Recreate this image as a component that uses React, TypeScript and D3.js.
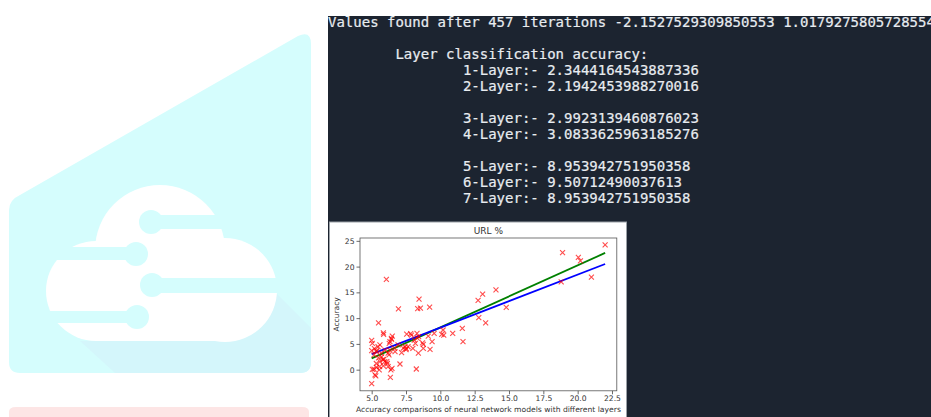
import * as d3 from "d3";
import React, { useEffect, useRef } from "react";

// terminal output shown above the chart
const terminalLines: string[] = [
  "Values found after 457 iterations -2.1527529309850553 1.0179275805728554",
  "",
  "        Layer classification accuracy:",
  "                1-Layer:-  2.3444164543887336",
  "                2-Layer:-  2.1942453988270016",
  "",
  "                3-Layer:-  2.9923139460876023",
  "                4-Layer:-  3.0833625963185276",
  "",
  "                5-Layer:-  8.953942751950358",
  "                6-Layer:-  9.50712490037613",
  "                7-Layer:-  8.953942751950358",
];

const chartTitle = "URL %";
const xLabel = "Accuracy comparisons of neural network models with different layers";
const yLabel = "Accuracy";

const xTicks = [5, 7.5, 10, 12.5, 15, 17.5, 20, 22.5];
const yTicks = [0, 5, 10, 15, 20, 25];

// scatter points
const pointsX = [
  22.0, 18.9, 20.05, 20.2, 18.8, 21.0, 14.05, 13.08, 12.75, 14.8, 12.8, 13.3,
  11.6, 11.65, 10.9, 10.2, 10.1, 10.25, 6.07, 8.45, 6.95, 8.35, 8.55, 9.22,
  5.5, 5.85, 5.87, 9.55, 9.12, 9.4, 8.76, 9.25, 8.76, 8.4, 8.3, 8.32, 8.1,
  7.84, 7.55, 7.9, 8.42, 8.18, 8.0, 7.65, 7.52, 7.43, 7.3, 7.5, 7.18, 6.7,
  6.92, 6.67, 6.5, 6.45, 6.33, 6.28, 6.43, 6.33, 6.26, 6.2, 5.97, 5.0, 5.05,
  5.6, 5.46, 5.36, 5.0, 5.2, 5.34, 5.17, 5.7, 5.73, 5.5, 5.83, 5.85, 5.6,
  6.1, 5.95, 6.14, 5.34, 5.36, 5.55, 5.85, 6.2, 6.4, 5.17, 5.05, 5.58, 6.48,
  5.24, 5.3, 5.0, 6.36, 7.06, 8.25, 8.7,
];
const pointsY = [
  24.2, 22.7, 21.8, 21.1, 17.05, 17.95, 15.5, 14.67, 13.45, 12.1, 10.1, 9.1,
  8.0, 5.43, 7.05, 7.7, 6.85, 6.7, 17.5, 13.7, 11.8, 11.85, 11.95, 12.15,
  9.1, 7.15, 6.85, 7.05, 6.5, 5.43, 4.15, 3.95, 4.9, 3.2, 7.05, 6.1, 5.75,
  7.0, 6.9, 6.7, 6.4, 5.1, 4.13, 4.45, 4.1, 4.45, 4.2, 3.9, 3.3, 3.5,
  4.8, 4.13, 6.5, 5.9, 5.43, 5.1, 6.07, 3.8, 2.85, 3.2, 3.8, 5.7, 5.1,
  4.8, 4.45, 3.7, 3.7, 4.1, 3.5, 2.85, 3.2, 2.5, 2.3, 2.0, 1.9, 1.55,
  1.55, 1.55, 1.2, 1.2, 0.46, -0.06, 0.72, 0.58, -0.06, 0.08, 0.06, 0.58, 0.26,
  -1.03, -1.2, -2.7, -1.48, 1.1, 0.13, 5.2,
];

// fitted lines (start / end)
const fitX = [5.0, 22.0];
const greenFitY = [2.2, 22.65];
const blueFitY = [3.0, 20.5];

const App = () => {
  const ref = useRef<SVGSVGElement>(null);

  useEffect(() => {
    const svg = d3.select(ref.current);
    svg.selectAll("*").remove();

    // ---- logo on the left ----
    const logo = svg.append("g");
    logo
      .append("path")
      .attr(
        "d",
        "M9,210 Q9,200 20,195 L298,36 Q311,30 311,44 L311,362 Q311,373 300,373 L20,373 Q9,373 9,362 Z"
      )
      .attr("fill", "#d5fdfd");
    logo
      .append("path")
      .attr("d", "M80,341 L230,341 L276,293 L311,328 L311,362 Q311,373 300,373 L115,373 Z")
      .attr("fill", "#d4f6fb");
    const cloud = logo.append("g").attr("fill", "#ffffff");
    cloud.append("circle").attr("cx", 160).attr("cy", 250).attr("r", 65);
    cloud.append("circle").attr("cx", 96).attr("cy", 291).attr("r", 50);
    cloud.append("circle").attr("cx", 225).attr("cy", 290).attr("r", 52);
    cloud.append("rect").attr("x", 96).attr("y", 250).attr("width", 130).attr("height", 91);
    const circuit = logo.append("g").attr("fill", "#d5fdfd");
    [
      [152, 232, 215, 14, 151, 222],
      [36, 135, 247, 13, 136, 254],
      [152, 290, 278, 15, 152, 285],
      [40, 135, 311, 12, 137, 317],
    ].forEach(([x0, x1, y, h, cx, cy]) => {
      circuit.append("rect").attr("x", x0).attr("y", y).attr("width", x1 - x0).attr("height", h);
      circuit.append("circle").attr("cx", cx).attr("cy", cy).attr("r", 12);
    });
    logo
      .append("path")
      .attr("d", "M9,417 L9,412 Q9,407 16,407 L302,407 Q309,407 309,412 L309,417 Z")
      .attr("fill", "#fde5e5");

    // ---- terminal ----
    svg
      .append("rect")
      .attr("x", 328)
      .attr("y", 16)
      .attr("width", 603)
      .attr("height", 401)
      .attr("fill", "#1c2430");

    const charW = 8.43;
    const lineH = 16.05;
    svg
      .append("g")
      .attr("font-family", "DejaVu Sans Mono, monospace")
      .attr("font-size", 14)
      .attr("fill", "#e8ecf0")
      .attr("stroke", "#e8ecf0")
      .attr("stroke-width", 0.2)
      .selectAll("text")
      .data(terminalLines)
      .join("text")
      .attr("x", (d) => 328 + (d.length - d.trimStart().length) * charW)
      .attr("y", (_, i) => 26.5 + i * lineH)
      .text((d) => d.trim());

    svg.append("rect").attr("x", 328).attr("y", 0).attr("width", 603).attr("height", 16).attr("fill", "#ffffff");

    // ---- chart panel ----
    svg
      .append("rect")
      .attr("x", 329.5)
      .attr("y", 222)
      .attr("width", 297)
      .attr("height", 196)
      .attr("fill", "#ffffff")
      .attr("stroke", "#9aa0a6")
      .attr("stroke-width", 1);

    const x = d3.scaleLinear().domain([4.15, 22.85]).range([360, 616.8]);
    const y = d3.scaleLinear().domain([-4.1, 25.55]).range([390.8, 238]);

    const xAxis = svg
      .append("g")
      .attr("transform", `translate(0, ${y.range()[0]})`)
      .call(
        d3
          .axisBottom(x)
          .tickValues(xTicks)
          .tickFormat(d3.format(".1f"))
          .tickSize(3.5)
          .tickPadding(1.5)
      );
    const yAxis = svg
      .append("g")
      .attr("transform", `translate(${x.range()[0]}, 0)`)
      .call(d3.axisLeft(y).tickValues(yTicks).tickFormat(d3.format("d")).tickSize(3.5).tickPadding(2));

    [xAxis, yAxis].forEach((a) => {
      a.select(".domain").remove();
      a.selectAll(".tick line").attr("stroke", "#444").attr("stroke-width", 0.8);
      a.selectAll(".tick text")
        .attr("fill", "#333")
        .attr("font-family", "DejaVu Sans, sans-serif")
        .attr("font-size", 7.6);
    });

    // lines
    const line = d3
      .line<number>()
      .x((_, i) => x(fitX[i]))
      .y((d) => y(d));
    svg.append("path").attr("d", line(greenFitY)).attr("fill", "none").attr("stroke", "#008000").attr("stroke-width", 1.8);
    svg.append("path").attr("d", line(blueFitY)).attr("fill", "none").attr("stroke", "#0000ff").attr("stroke-width", 1.8);

    // x markers
    const s = 2.5;
    svg
      .append("g")
      .attr("stroke", "#ff0000")
      .attr("stroke-opacity", 0.7)
      .attr("stroke-width", 1.1)
      .attr("fill", "none")
      .selectAll("path")
      .data(pointsX.map((px, i) => [px, pointsY[i]]))
      .join("path")
      .attr("d", ([px, py]) => {
        const cx = x(px);
        const cy = y(py);
        return `M${cx - s},${cy - s}L${cx + s},${cy + s}M${cx - s},${cy + s}L${cx + s},${cy - s}`;
      });

    // frame
    svg
      .append("rect")
      .attr("x", x.range()[0])
      .attr("y", y.range()[1])
      .attr("width", x.range()[1] - x.range()[0])
      .attr("height", y.range()[0] - y.range()[1])
      .attr("fill", "none")
      .attr("stroke", "#555")
      .attr("stroke-width", 0.8);

    const cx = (x.range()[0] + x.range()[1]) / 2;
    const cy = (y.range()[0] + y.range()[1]) / 2;

    svg
      .append("text")
      .attr("x", cx)
      .attr("y", 234)
      .attr("text-anchor", "middle")
      .attr("font-family", "DejaVu Sans, sans-serif")
      .attr("font-size", 9)
      .attr("fill", "#333")
      .text(chartTitle);

    svg
      .append("text")
      .attr("x", cx)
      .attr("y", 412)
      .attr("text-anchor", "middle")
      .attr("font-family", "DejaVu Sans, sans-serif")
      .attr("font-size", 7.5)
      .attr("fill", "#333")
      .attr("textLength", 265)
      .attr("lengthAdjust", "spacingAndGlyphs")
      .text(xLabel);

    svg
      .append("text")
      .attr("transform", `translate(339, ${cy}) rotate(-90)`)
      .attr("text-anchor", "middle")
      .attr("font-family", "DejaVu Sans, sans-serif")
      .attr("font-size", 7.5)
      .attr("fill", "#333")
      .text(yLabel);
  }, []);

  return (
    <svg
      ref={ref}
      width={931}
      height={417}
      style={{ position: "absolute", left: 0, top: 0, background: "#ffffff" }}
    />
  );
};

export default App;
